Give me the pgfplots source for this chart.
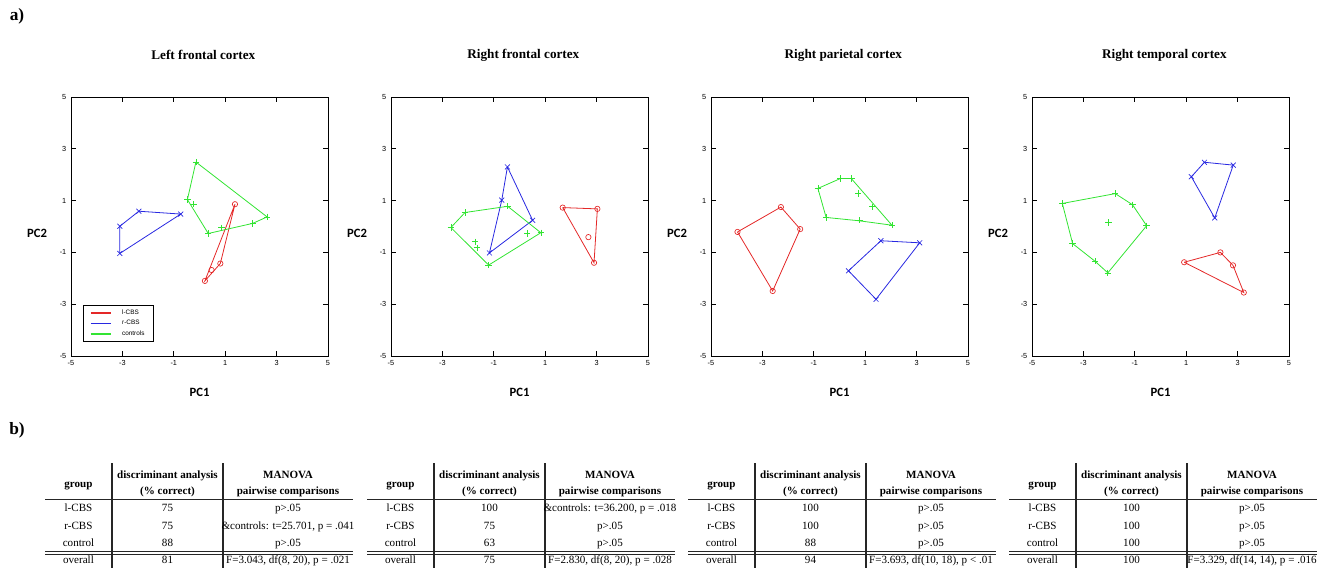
\documentclass[border=0pt]{standalone}
\usepackage{fontspec}
\setmainfont{Liberation Serif}
\newfontfamily\arialf{Liberation Sans}
\newfontfamily\calib{Carlito}
\usepackage{pgfplots}
\pgfplotsset{compat=1.18}

\definecolor{cred}{RGB}{228,40,40}
\definecolor{cblue}{RGB}{40,40,225}
\definecolor{cgreen}{RGB}{50,228,50}

\pgfplotsset{
  pca/.style={
    scale only axis, width=192.75pt, height=194.25pt,
    xmin=-5,xmax=5,ymin=-5,ymax=5,
    xtick={-5,-3,...,5}, ytick={-5,-3,...,5},
    xticklabels={-5,-3,-1,1,3,5}, yticklabels={-5,-3,-1,1,3,5},
    tick align=inside, major tick length=3.75pt,
    ticklabel style={font=\arialf\fontsize{5.5}{6}\selectfont},
    axis line style={line width=0.6pt},
    every tick/.style={black, line width=0.6pt},
    anchor=north west,
    title style={at={(axis description cs:0.515,1.131)}, anchor=center, font=\bfseries\fontsize{9.9}{11}\selectfont},
    xlabel={PC1}, ylabel={PC2},
    xlabel style={at={(axis description cs:0.5,-0.139)}, anchor=center, font=\calib\bfseries\fontsize{9.5}{10}\selectfont},
    ylabel style={rotate=-90, at={(axis description cs:-0.132,0.475)}, anchor=center, font=\calib\bfseries\fontsize{9.5}{10}\selectfont},
  },
  hull/.style={no markers, line width=0.6pt},
  rpts/.style={only marks, cred, mark=o, mark size=2pt, mark options={line width=0.5pt}, forget plot},
  bpts/.style={only marks, cblue, mark=x, mark size=2.6pt, mark options={line width=0.5pt}, forget plot},
  gpts/.style={only marks, cgreen, mark=+, mark size=2.4pt, mark options={line width=0.5pt}, forget plot},
}

\newcommand{\mktable}[9]{%
\begin{scope}[x=0.75pt,y=-0.75pt,xshift=#1*0.75pt,
  every node/.style={inner sep=0pt, text height=0.7em, text depth=0.2em, font=\fontsize{8.3}{9}\selectfont}]
  \node[font=\bfseries\fontsize{8.3}{9}\selectfont] at (33.5,484) {group};
  \node[font=\bfseries\fontsize{8.3}{9}\selectfont] at (122.5,475) {discriminant analysis};
  \node[font=\bfseries\fontsize{8.3}{9}\selectfont] at (122.5,491.5) {(\% correct)};
  \node[font=\bfseries\fontsize{8.3}{9}\selectfont] at (243,475) {MANOVA};
  \node[font=\bfseries\fontsize{8.3}{9}\selectfont] at (243,491.5) {pairwise comparisons};
  \draw[line width=1.1pt, black!85] (0,499.3) -- (308,499.3);
  \draw[line width=0.8pt, black!85] (0,551.6) -- (308,551.6);
  \draw[line width=0.8pt, black!85] (0,554.4) -- (308,554.4);
  \draw[line width=1.1pt, black!85] (67,463) -- (67,568);
  \draw[line width=1.1pt, black!85] (178,463) -- (178,568);
  \node at (33.5,508.3) {l-CBS};
  \node at (33.5,525.7) {r-CBS};
  \node at (33.5,543.3) {control};
  \node at (33.5,560.5) {overall};
  \node at (122.5,508.3) {#2};
  \node at (243,508.3) {#3};
  \node at (122.5,525.7) {#4};
  \node at (243,525.7) {#5};
  \node at (122.5,543.3) {#6};
  \node at (243,543.3) {#7};
  \node at (122.5,560.5) {#8};
  \node at (243,560.5) {#9};
\end{scope}}

\begin{document}
\begin{tikzpicture}
\path[use as bounding box] (0,0) rectangle ({1327*0.75pt},{-571*0.75pt});

% Panel 1
\begin{axis}[pca, at={({71*0.75pt},{-97*0.75pt})}, title={Left frontal cortex},
  legend style={at={(axis cs:-4.53,-4.46)}, anchor=south west,
    font=\arialf\fontsize{4.8}{5}\selectfont, draw=black, line width=0.6pt,
    inner xsep=5pt, inner ysep=2pt, row sep=0.6pt,
    nodes={inner ysep=1.2pt},
    /tikz/every odd column/.append style={column sep=6pt}},
  legend cell align=left,
  legend image code/.code={\draw[#1, line width=1pt] (0pt,0pt) -- (15pt,0pt);}]
\addplot[hull, draw=cred] coordinates {(1.38,0.86) (0.81,-1.43) (0.21,-2.10) (1.38,0.86)};
\addlegendentry{l-CBS}
\addplot[hull, draw=cblue] coordinates {(-3.10,0.01) (-2.36,0.59) (-0.73,0.48) (-3.10,-1.04) (-3.10,0.01)};
\addlegendentry{r-CBS}
\addplot[hull, draw=cgreen] coordinates {(-0.14,2.49) (2.63,0.37) (2.07,0.12) (0.34,-0.27) (-0.47,1.04) (-0.14,2.49)};
\addlegendentry{controls}
\addplot[rpts] coordinates {(1.38,0.86) (0.81,-1.43) (0.47,-1.68) (0.21,-2.10)};
\addplot[bpts] coordinates {(-3.10,0.01) (-2.36,0.59) (-0.73,0.48) (-3.10,-1.04)};
\addplot[gpts] coordinates {(-0.14,2.49) (-0.47,1.04) (-0.23,0.86) (0.34,-0.27) (0.86,-0.05) (2.07,0.12) (2.63,0.37)};
\end{axis}

% Panel 2
\begin{axis}[pca, at={({391*0.75pt},{-97*0.75pt})}, title={Right frontal cortex}]
\addplot[hull, cred] coordinates {(1.68,0.73) (3.03,0.68) (2.90,-1.40) (1.68,0.73)};
\addplot[hull, cblue] coordinates {(-0.47,2.30) (0.51,0.24) (-1.17,-1.02) (-0.69,1.02) (-0.47,2.30)};
\addplot[hull, cgreen] coordinates {(-2.67,-0.04) (-2.12,0.54) (-0.46,0.78) (0.83,-0.24) (-1.20,-1.49) (-2.67,-0.04)};
\addplot[rpts] coordinates {(1.68,0.73) (3.03,0.68) (2.68,-0.41) (2.90,-1.40)};
\addplot[bpts] coordinates {(-0.47,2.30) (-0.69,1.02) (0.51,0.24) (-1.17,-1.02)};
\addplot[gpts] coordinates {(-2.67,-0.04) (-2.12,0.54) (-0.46,0.78) (0.83,-0.24) (-1.20,-1.49) (-1.73,-0.59) (-1.66,-0.82) (0.30,-0.27)};
\end{axis}

% Panel 3
\begin{axis}[pca, at={({711*0.75pt},{-97*0.75pt})}, title={Right parietal cortex}]
\addplot[hull, cred] coordinates {(-3.97,-0.21) (-2.28,0.75) (-1.53,-0.10) (-2.60,-2.49) (-3.97,-0.21)};
\addplot[hull, cblue] coordinates {(1.61,-0.55) (3.12,-0.63) (1.42,-2.81) (0.35,-1.71) (1.61,-0.55)};
\addplot[hull, cgreen] coordinates {(-0.84,1.47) (0.03,1.85) (0.46,1.85) (2.04,0.05) (0.77,0.22) (-0.52,0.35) (-0.84,1.47)};
\addplot[rpts] coordinates {(-3.97,-0.21) (-2.28,0.75) (-1.53,-0.10) (-2.60,-2.49)};
\addplot[bpts] coordinates {(1.61,-0.55) (3.12,-0.63) (0.35,-1.71) (1.42,-2.81)};
\addplot[gpts] coordinates {(-0.84,1.47) (0.03,1.85) (0.46,1.85) (0.73,1.27) (1.29,0.76) (2.04,0.05) (0.77,0.24) (-0.52,0.35)};
\end{axis}

% Panel 4
\begin{axis}[pca, at={({1032*0.75pt},{-97*0.75pt})}, title={Right temporal cortex}]
\addplot[hull, cred] coordinates {(0.92,-1.38) (2.33,-1.00) (2.82,-1.50) (3.24,-2.55) (0.92,-1.38)};
\addplot[hull, cblue] coordinates {(1.20,1.92) (1.71,2.48) (2.83,2.37) (2.11,0.33) (1.20,1.92)};
\addplot[hull, cgreen] coordinates {(-3.82,0.89) (-1.76,1.27) (-1.09,0.84) (-0.54,0.03) (-2.05,-1.79) (-2.55,-1.34) (-3.42,-0.66) (-3.82,0.89)};
\addplot[rpts] coordinates {(0.92,-1.38) (2.33,-1.00) (2.82,-1.50) (3.24,-2.55)};
\addplot[bpts] coordinates {(1.20,1.92) (1.71,2.48) (2.83,2.37) (2.11,0.33)};
\addplot[gpts] coordinates {(-3.82,0.89) (-1.76,1.27) (-1.09,0.84) (-0.54,0.03) (-2.05,-1.79) (-2.55,-1.34) (-3.42,-0.66) (-2.03,0.15)};
\end{axis}

% panel letters
\begin{scope}[x=0.75pt,y=-0.75pt]
  \node[font=\bfseries\fontsize{13}{14}\selectfont] at (17,16) {a)};
  \node[font=\bfseries\fontsize{13}{14}\selectfont] at (17,430) {b)};
\end{scope}

% tables
\mktable{45}{75}{p>.05}{75}{\&controls: t=25.701, p = .041}{88}{p>.05}{81}{F=3.043, df(8, 20), p = .021}
\mktable{367}{100}{\&controls: t=36.200, p = .018}{75}{p>.05}{63}{p>.05}{75}{F=2.830, df(8, 20), p = .028}
\mktable{688}{100}{p>.05}{100}{p>.05}{88}{p>.05}{94}{F=3.693, df(10, 18), p < .01}
\mktable{1009}{100}{p>.05}{100}{p>.05}{100}{p>.05}{100}{F=3.329, df(14, 14), p = .016}
\end{tikzpicture}
\end{document}
